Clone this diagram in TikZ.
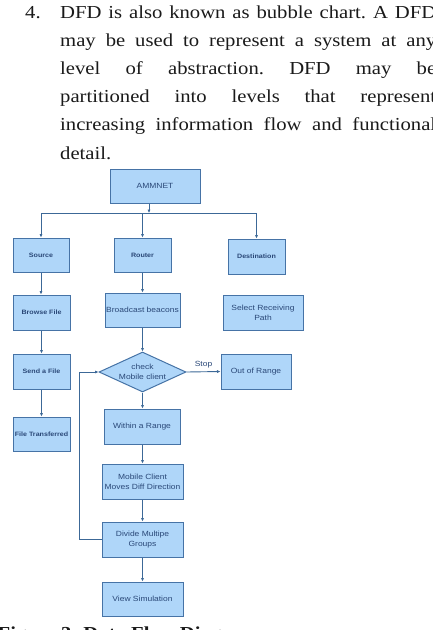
\documentclass[tikz,border=0pt]{standalone}
\usepackage{fontspec}
\usetikzlibrary{shapes.geometric,arrows.meta}
\newfontfamily\parafont[FakeStretch=1.13]{Liberation Serif}
\newfontfamily\boxfont[FakeStretch=1.13]{Liberation Sans}
\definecolor{boxfill}{HTML}{AFD6F9}
\definecolor{boxline}{HTML}{4673A6}
\definecolor{conn}{HTML}{3C6897}
\definecolor{boxtext}{HTML}{2A4878}
\definecolor{bodytext}{HTML}{1A1A1A}
\tikzset{
  bx/.style={draw=boxline, line width=1pt, fill=boxfill, text=boxtext, inner sep=1pt, align=center,
    font=\boxfont\fontsize{7.5}{10}\selectfont},
  bxb/.style={bx, font=\boxfont\bfseries\fontsize{6.3}{8}\selectfont},
  dia/.style={bx, diamond, aspect=2.2, inner sep=0pt, minimum width=87pt, minimum height=40pt},
  arr/.style={draw=conn, line width=0.9pt, -{Latex[length=3.5pt,width=3.2pt]}},
  ln/.style={draw=conn, line width=0.9pt},
  para/.style={anchor=base west, inner sep=0pt, text=bodytext, font=\parafont\fontsize{18.3}{28}\selectfont},
}
\begin{document}
\frenchspacing
\begin{tikzpicture}[x=1pt,y=-1pt]
\path[use as bounding box] (0,0) rectangle (432,630);
\clip (0,0) rectangle (432,630);
% paragraph
\node[para] (num) at (25,18.5) {4.};
\node[para] (l1) at (60,18.5) {\makebox[376pt][s]{DFD is also known as bubble chart. A DFD}};
\node[para] (l2) at (60,46.6) {\makebox[376pt][s]{may be used to represent a system at any}};
\node[para] (l3) at (60,74.7) {\makebox[376pt][s]{level of abstraction. DFD may be}};
\node[para] (l4) at (60,102.8) {\makebox[376pt][s]{partitioned into levels that represent}};
\node[para] (l5) at (60,130.9) {\makebox[376pt][s]{increasing information flow and functional}};
\node[para] (l6) at (60,159) {detail.};
% caption (cut off)
\node[para, font=\parafont\bfseries\fontsize{18.3}{28}\selectfont] (cap) at (-2.5,639.5) {Figure 3: Data Flow Diagram};
% boxes
\node[bx, minimum width=90pt, minimum height=34pt] (ammnet) at (155,186) {AMMNET};
\node[bxb, minimum width=56pt, minimum height=34pt] (source) at (41,255) {Source};
\node[bxb, minimum width=57pt, minimum height=34pt] (router) at (142.5,255) {Router};
\node[bxb, minimum width=57pt, minimum height=35pt] (dest) at (256.5,256.5) {Destination};
\node[bxb, minimum width=57pt, minimum height=35pt] (browse) at (41.5,312.5) {Browse File};
\node[bx, minimum width=75pt, minimum height=34pt] (beacon) at (142.5,310) {Broadcast beacons};
\node[bx, minimum width=80pt, minimum height=35pt] (select) at (263,312.5) {Select Receiving\\Path};
\node[bxb, minimum width=57pt, minimum height=35pt] (send) at (41.5,371.5) {Send a File};
\node[dia] (check) at (142.5,372) {check\\Mobile client};
\node[bx, minimum width=70pt, minimum height=35pt] (out) at (256,371.5) {Out of Range};
\node[bxb, minimum width=57pt, minimum height=34pt] (trans) at (41.5,434) {File Transferred};
\node[bx, minimum width=76pt, minimum height=35pt] (within) at (142,426.5) {Within a Range};
\node[bx, minimum width=81pt, minimum height=35pt] (moves) at (142.5,481.5) {Mobile Client\\Moves Diff Direction};
\node[bx, minimum width=81pt, minimum height=35pt] (divide) at (142.5,539.5) {Divide Multipe\\Groups};
\node[bx, minimum width=81pt, minimum height=34pt] (view) at (142.5,599) {View Simulation};
% bus
\coordinate (busl) at (41,213);
\coordinate (busr) at (256.5,213);
\coordinate (busa) at (149,213);
\coordinate (busm) at (142.5,213);
\draw[ln] (busl) -- (busr);
\draw[arr] (ammnet.south -| busa) -- (busa);
\draw[arr] (busl) -- (source.north);
\draw[arr] (busm) -- (router.north);
\draw[arr] (busr) -- (dest.north);
% source column
\draw[arr] (source.south) -- (browse.north -| source.south);
\draw[arr] (browse.south) -- (send.north);
\draw[arr] (send.south) -- (trans.north);
% router column
\draw[arr] (router.south) -- (beacon.north);
\draw[arr] (beacon.south) -- (check.north);
\draw[arr] (check.south) -- (within.north -| check.south);
\draw[arr] (within.south -| moves.north) -- (moves.north);
\draw[arr] (moves.south) -- (divide.north);
\draw[arr] (divide.south) -- (view.north);
% stop
\draw[arr] (check.east) -- node[above, pos=0.5, yshift=2pt, text=boxtext, font=\boxfont\fontsize{7.5}{9}\selectfont, inner sep=1pt] (stop) {Stop} (out.west);
% loop
\coordinate (lb) at (79,539.5);
\coordinate (lt) at (79,372);
\draw[arr] (divide.west) -- (lb) -- (lt) -- (check.west);
\end{tikzpicture}
\end{document}
